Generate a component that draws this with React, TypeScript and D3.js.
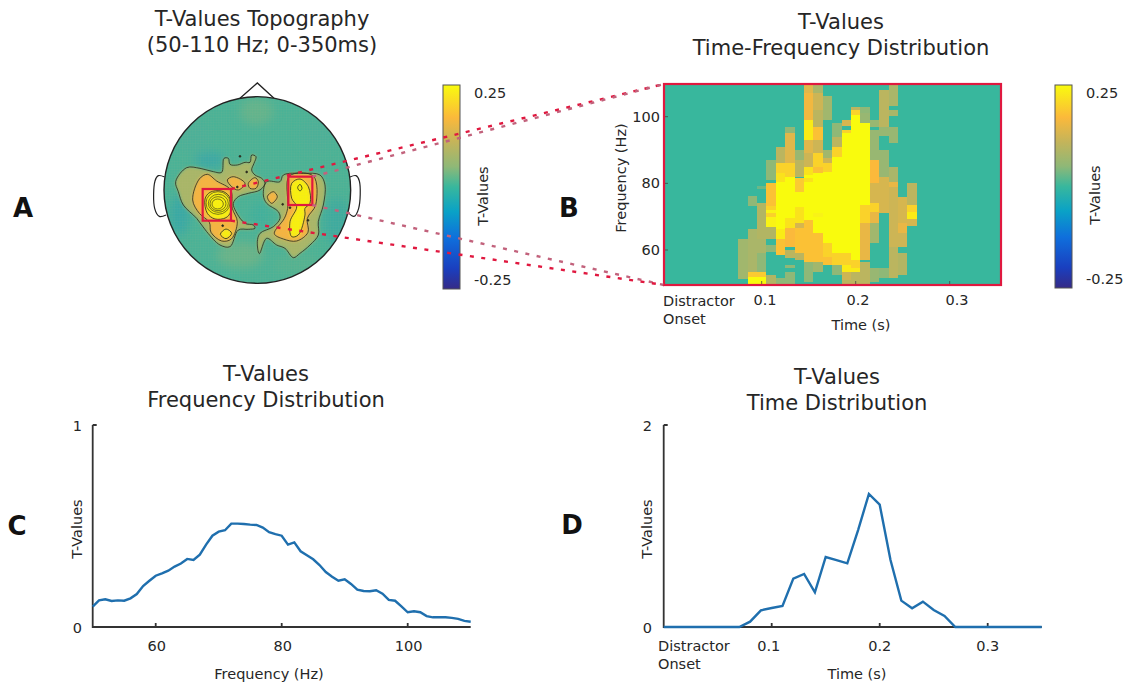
import React from "react";
import * as d3 from "d3";

// ---------- data ----------
const freqHz = d3.range(50, 111);
const freqValues = [.101,.132,.137,.129,.132,.130,.142,.163,.203,.229,.254,.266,.279,.299,.314,.337,.332,.358,.408,.452,.472,.479,.512,.512,.510,.507,.505,.492,.469,.460,.452,.408,.419,.375,.355,.335,.307,.272,.249,.229,.236,.213,.185,.178,.177,.182,.165,.134,.130,.102,.073,.078,.073,.054,.048,.048,.048,.045,.040,.030,.026];
const timeSec = [0,.07,.08,.09,.10,.11,.12,.13,.14,.15,.16,.17,.18,.19,.20,.21,.22,.23,.24,.25,.26,.27,.35];
const timeValues = [0,0,.053,.165,.188,.208,.479,.525,.343,.693,.663,.630,.960,1.317,1.211,.663,.261,.185,.251,.169,.109,0,0];

// [time centre, [fLow, fHigh, tValue]...]
type Col = [number, [number, number, number][]];
const heatCols: Col[] = [
  [.08, [[51.3,63.2,.07]]],
  [.09, [[73.2,76.2,.05],[53.5,66.2,.08],[52,53.5,.19],[49.6,52,.25]]],
  [.10, [[78.4,79.2,.03],[63.2,74.2,.09],[59,63.2,.08],[53.5,59,.05],[52,53.5,.19],[49.6,52,.25]]],
  [.11, [[81,87,.05],[73.2,80.2,.18],[72,73.2,.2],[71,72,.24],[70,71,.2],[69,70,.24],[66.8,69,.24],[63.2,67,.09],[59.5,61.5,.05],[49.6,52.5,.09]]],
  [.12, [[86,91,.1],[83,86,.2],[80.5,83,.22],[66.2,80.5,.25],[63.2,66.2,.23],[58.5,63.2,.18],[49.6,51.5,.05]]],
  [.13, [[95,97,.05],[86,95,.14],[82,86,.2],[69.5,82,.25],[66.5,69.5,.22],[61,66.5,.17],[57.5,60,.1],[54.5,55.5,.05],[49.6,53.5,.05]]],
  [.14, [[87,90,.06],[82,87,.1],[77.5,81.5,.19],[73,77.5,.25],[68,73,.22],[66.5,68,.13],[59,66.5,.18],[57,59,.1]]],
  [.15, [[107,109.8,.14],[99,107,.16],[93,99,.23],[89,93,.14],[85,89,.12],[82.5,85,.22],[81.5,82.5,.25],[80.5,81.5,.22],[69,80.5,.25],[56.5,69,.18],[50.5,56.5,.05]]],
  [.16, [[107,109.8,.08],[102,107,.12],[97,102,.1],[93,97,.18],[89,93,.12],[85,89,.2],[83,85,.18],[71,83,.25],[70,71,.24],[65,70,.25],[56.5,65,.18],[53.5,56.5,.07]]],
  [.17, [[99,106.2,.07],[87.5,90,.07],[86,87.5,.12],[83.5,86,.2],[62,83.5,.25],[58,62,.2],[55.5,58,.18]]],
  [.18, [[94,98,.05],[91,94,.1],[88,91,.2],[59,88,.25],[55.5,59,.2],[52.5,55.5,.05]]],
  [.19, [[97.2,99,.13],[95,96,.2],[59,95,.25],[55.5,59,.2],[53.5,55.5,.23],[51,53.5,.12],[49.6,51,.1]]],
  [.20, [[102,103,.1],[100.5,102,.2],[57,100.5,.25],[54.5,57,.2],[53.5,54.5,.23],[49.6,53.5,.1]]],
  [.21, [[101,103,.05],[98.2,101,.06],[73.5,98.2,.25],[68,73.5,.2],[57,68,.15],[49.6,56.5,.1]]],
  [.22, [[97,99,.06],[91,96,.06],[87,91,.06],[80,87,.17],[74,80,.13],[71.5,74,.2],[68,71.5,.15],[62,68,.07],[50.5,54.5,.06]]],
  [.23, [[97,108,.1],[94.2,97,.06],[82,90,.06],[71,82,.13],[51.5,54.5,.05]]],
  [.24, [[103.2,109.8,.08],[100.2,102,.08],[92,97,.06],[80.5,85,.08],[79,80.5,.15],[61,79,.12],[51.5,61,.1]]],
  [.25, [[68,76,.13],[65,68,.15],[61,65,.12],[52.5,59,.09]]],
  [.26, [[73.5,80.2,.1],[71.5,73.5,.2],[69.2,71.5,.23],[67.2,69.2,.13]]],
];

const cbarStops = [-.25,-.2,-.125,-.06,0,.05,.11,.17,.25];
const cbarColors = ["#352a87","#1a3fbf","#0f6fdc","#0aa2c6","#38b79d","#8fb877","#c4b45a","#fbb93b","#f9fb0e"];

// topography outlines, in the head's own picture units (0..660)
const headOutline = { cx: 322, cy: 345, r: 280 };
const nosePts: [number,number][] = [[270,70],[322,24],[372,70]];
const earL: [number,number][] = [[44,306],[25,302],[15,318],[14,400],[28,424],[48,420]];
const earR: [number,number][] = [[600,306],[618,302],[628,318],[626,400],[612,424],[594,412]];
const outerL: [number,number][] = [[77,320],[110,278],[150,280],[190,290],[215,292],[222,250],[235,250],[240,268],[262,270],[285,262],[300,262],[305,240],[318,245],[312,265],[305,285],[315,300],[335,310],[345,325],[330,345],[295,355],[265,365],[250,385],[258,410],[285,445],[310,450],[315,460],[295,463],[265,465],[240,515],[210,510],[170,470],[140,430],[100,390],[85,350]];
const outerR: [number,number][] = [[350,320],[390,320],[400,300],[460,295],[510,300],[525,330],[520,390],[505,440],[505,480],[480,510],[450,535],[430,548],[405,520],[380,510],[350,490],[328,536],[322,500],[330,475],[370,455],[390,430],[385,410],[350,385],[340,360]];
const midL: [number,number][] = [[128,375],[148,312],[172,298],[200,318],[242,345],[247,400],[262,440],[244,492],[215,498],[183,472],[178,442],[148,415]];
const midL2: [number,number][] = [[232,315],[250,305],[285,325],[265,345],[245,335]];
const midL3: [number,number][] = [[295,325],[315,308],[325,320],[318,340],[300,340]];
const midR: [number,number][] = [[418,303],[490,303],[497,390],[472,430],[474,472],[440,498],[400,492],[373,476],[403,430],[413,400]];
const midR2: [number,number][] = [[352,365],[370,350],[382,365],[365,385]];
const hiR: [number,number][] = [[425,325],[450,312],[475,335],[480,385],[465,400],[465,420],[445,480],[425,485],[420,440],[440,395],[425,370]];
const hiL2: [number,number][] = [[211,478],[228,462],[245,475],[228,491]];
const hiL: [number,number][] = [[165,372],[180,352],[215,348],[238,365],[242,410],[228,428],[195,432],[172,415]];
const topR: [number,number][] = [[443,338],[450,328],[456,340],[450,348]];
const ringsL: [number, number, number, number][] = [[204,384,36,34],[205,385,30,27],[204,386,24,21],[203,387,17,15]];
const specks: [number,number][] = [[270,244],[290,291],[262,336],[398,388],[474,436],[420,398],[218,452]];
const bgBlobs: [number,number,number,number,string][] = [
  [320,110,50,40,"#62b48c"],[180,255,45,25,"#3aa9a5"],[90,420,30,60,"#38a9a5"],[560,440,40,70,"#3dab9f"],
  [270,540,70,40,"#66b48a"],[440,570,70,35,"#52b291"],[130,190,50,50,"#4cb098"],[500,180,50,50,"#4cb098"],[330,420,30,40,"#3fb09c"],
];
const boxL: [number,number,number,number] = [158,342,243,437];
const boxR: [number,number,number,number] = [415,305,487,390];

const freqTicks = [60,80,100];
const timeTicks = [.1,.2,.3];

// ---------- scales ----------
const W = 1127, H = 686;
const cVals = d3.scaleLinear<string>().domain(cbarStops).range(cbarColors).interpolate(d3.interpolateRgb).clamp(true);
const hx = d3.scaleLinear([0,660],[150,370]);
const hy = d3.scaleLinear([0,660],[75,295]);
const hBlobLine = d3.line<[number,number]>().x(d=>hx(d[0])).y(d=>hy(d[1])).curve(d3.curveCatmullRomClosed.alpha(.5));
const hOpen = d3.line<[number,number]>().x(d=>hx(d[0])).y(d=>hy(d[1]));
const hCurve = d3.line<[number,number]>().x(d=>hx(d[0])).y(d=>hy(d[1])).curve(d3.curveCatmullRom);

const bx = d3.scaleLinear([.1,.2],[761.7,855.7]);
const by = d3.scaleLinear([60,100],[250,116.7]);
const cx = d3.scaleLinear([50,110],[92.7,470.7]);
const cy = d3.scaleLinear([0,1],[627,425]);
const dx = d3.scaleLinear([.1,.3],[771.7,987.7]);
const dy = d3.scaleLinear([0,2],[627,425]);

const font = "'DejaVu Sans', sans-serif";
const ink = "#262626";
const axisInk = "#333";
const red = "#e0183f";
const dusty = "#c2627c";
const TS = 14.5;
const HS = 21;

const T = (p: any) => <text fontFamily={font} fill={ink} {...p} />;

function Colorbar({ id, x, y, w, h, labelX, titleX, titleY }: any) {
  return (
    <g>
      <defs>
        <linearGradient id={id} x1="0" x2="0" y1="1" y2="0">
          {cbarStops.map((s, i) => <stop key={i} offset={(s + .25) / .5} stopColor={cbarColors[i]} />)}
        </linearGradient>
      </defs>
      <rect x={x} y={y} width={w} height={h} fill={`url(#${id})`} stroke="#555" strokeWidth={1} />
      <T x={labelX} y={y + 13} fontSize={TS}>0.25</T>
      <T x={labelX} y={y + h - 4} fontSize={TS}>-0.25</T>
      <T fontSize={TS} textAnchor="middle" transform={`translate(${titleX},${titleY}) rotate(-90)`}>T-Values</T>
    </g>
  );
}

function Connector({ a, b, color }: { a: [number, number]; b: [number, number]; color: string }) {
  return <line x1={hx(a[0])} y1={hy(a[1])} x2={b[0]} y2={b[1]} stroke={color} strokeWidth={2.4} strokeDasharray="4 7.5" />;
}

export default function App() {
  const lineC = d3.line<number>().x((_, i) => cx(freqHz[i])).y(d => cy(d))(freqValues)!;
  const lineD = d3.line<number>().x((_, i) => dx(timeSec[i])).y(d => dy(d))(timeValues)!;
  return (
    <svg width={W} height={H} viewBox={`0 0 ${W} ${H}`} style={{ position: "absolute", left: 0, top: 0, background: "#fff" }}>
      <defs>
        <filter id="soft" x="-30%" y="-30%" width="160%" height="160%"><feGaussianBlur stdDeviation="5" /></filter>
        <filter id="soft2" x="-30%" y="-30%" width="160%" height="160%"><feGaussianBlur stdDeviation="1.6" /></filter>
        <filter id="soft3" x="-30%" y="-30%" width="160%" height="160%"><feGaussianBlur stdDeviation=".35" /></filter>
        <filter id="soft4" x="-5%" y="-5%" width="110%" height="110%"><feGaussianBlur stdDeviation=".5" /></filter>
        <clipPath id="headClip"><circle cx={hx(headOutline.cx)} cy={hy(headOutline.cy)} r={hx(headOutline.r) - hx(0)} /></clipPath>
        <clipPath id="heatClip"><rect x={664} y={84} width={337} height={201} /></clipPath>
        <pattern id="grid" width="2.6" height="2.6" patternUnits="userSpaceOnUse">
          <path d="M0 0H2.6M0 0V2.6" stroke="#c8b080" strokeWidth=".5" opacity=".2" />
        </pattern>
      </defs>

      {/* Titles */}
      <T x={262} y={26} fontSize={HS} textAnchor="middle">T-Values Topography</T>
      <T x={262} y={52} fontSize={HS} textAnchor="middle">(50-110 Hz; 0-350ms)</T>
      <T x={841} y={29} fontSize={HS} textAnchor="middle">T-Values</T>
      <T x={841} y={55} fontSize={HS} textAnchor="middle">Time-Frequency Distribution</T>
      <T x={266} y={381} fontSize={HS} textAnchor="middle">T-Values</T>
      <T x={266} y={407} fontSize={HS} textAnchor="middle">Frequency Distribution</T>
      <T x={837} y={384} fontSize={HS} textAnchor="middle">T-Values</T>
      <T x={837} y={410} fontSize={HS} textAnchor="middle">Time Distribution</T>

      {/* Panel letters */}
      {([["A",23,217],["B",569,217],["C",17,535],["D",572,534]] as [string,number,number][]).map(([s,x,y]) => (
        <text key={s} x={x} y={y} fontFamily={font} fontWeight="bold" fontSize={26} textAnchor="middle" fill="#111">{s}</text>
      ))}

      {/* Head */}
      <path d={hOpen(nosePts)!} fill="none" stroke="#222" strokeWidth={1.3} />
      <path d={hCurve(earL)!} fill="#fff" stroke="#222" strokeWidth={1.2} />
      <path d={hCurve(earR)!} fill="#fff" stroke="#222" strokeWidth={1.2} />
      <g clipPath="url(#headClip)">
        <rect x={150} y={75} width={220} height={220} fill="#4ab296" />
        <g filter="url(#soft)">
          {bgBlobs.map((b, i) => <ellipse key={i} cx={hx(b[0])} cy={hy(b[1])} rx={hx(b[2]) - 150} ry={hy(b[3]) - 75} fill={b[4]} />)}
        </g>
        <g filter="url(#soft2)">
          {[outerL, outerR].map((p, i) => <path key={i} d={hBlobLine(p)!} fill="#a8b668" />)}
          {[midL, midL2, midL3, midR, midR2].map((p, i) => <path key={i} d={hBlobLine(p)!} fill="#f5b440" />)}
          {[hiR, hiL2, hiL].map((p, i) => <path key={i} d={hBlobLine(p)!} fill="#f8f010" />)}
        </g>
        <rect x={150} y={75} width={220} height={220} fill="url(#grid)" />
        <g fill="none" stroke="#2a2a1c" strokeWidth={.8} filter="url(#soft3)">
          {[outerL, outerR, midL, midL2, midL3, midR, midR2, hiR, hiL2, topR, hiL].map((p, i) => <path key={i} d={hBlobLine(p)!} />)}
          {ringsL.map((r, i) => <ellipse key={i} cx={hx(r[0])} cy={hy(r[1])} rx={hx(r[2]) - 150} ry={hy(r[3]) - 75} strokeWidth={.6} />)}
          {specks.map((s, i) => <circle key={i} cx={hx(s[0])} cy={hy(s[1])} r={.9} fill="#2a2a1c" />)}
        </g>
      </g>
      <circle cx={hx(headOutline.cx)} cy={hy(headOutline.cy)} r={hx(headOutline.r) - hx(0)} fill="none" stroke="#222" strokeWidth={1.4} />
      {[boxL, boxR].map((b, i) => (
        <rect key={i} x={hx(b[0])} y={hy(b[1])} width={hx(b[2]) - hx(b[0])} height={hy(b[3]) - hy(b[1])} fill="none" stroke={red} strokeWidth={2.2} />
      ))}

      <Colorbar id="cbA" x={443} y={85} w={17} h={204} labelX={474} titleX={488} titleY={196} />
      <Colorbar id="cbB" x={1055} y={85} w={17} h={203} labelX={1086} titleX={1100} titleY={195} />

      {/* Heat panel B */}
      <rect x={664} y={84} width={337} height={201} fill={cVals(0)} />
      <g clipPath="url(#heatClip)"><g filter="url(#soft4)">
        {heatCols.map(([t, runs]) => runs.map((r, i) => (
          <rect key={t + "-" + i} x={bx(t - .005)} width={bx(.01) - bx(0)} y={by(r[1])} height={by(r[0]) - by(r[1])} fill={cVals(r[2])} shapeRendering="crispEdges" />
        )))}
      </g></g>
      <g stroke="#444" strokeWidth={.8}>
        {timeTicks.map(t => <line key={t} x1={bx(t)} x2={bx(t)} y1={285} y2={281} />)}
        {freqTicks.map(f => <line key={f} x1={664} x2={668} y1={by(f)} y2={by(f)} />)}
      </g>
      <rect x={664} y={84} width={337} height={201} fill="none" stroke={red} strokeWidth={2.2} />
      {freqTicks.map(f => <T key={f} x={660} y={by(f) + 5} fontSize={TS} textAnchor="end">{f}</T>)}
      <T fontSize={TS} textAnchor="middle" transform={`translate(626,178) rotate(-90)`}>Frequency (Hz)</T>
      {timeTicks.map((t, i) => <T key={t} x={[765, 858, 957][i]} y={305} fontSize={TS} textAnchor="middle">{t}</T>)}
      <T x={663} y={306} fontSize={TS}>Distractor</T>
      <T x={663} y={324} fontSize={TS}>Onset</T>
      <T x={861} y={330} fontSize={TS} textAnchor="middle">Time (s)</T>

      {/* Connectors */}
      <Connector a={[243, 342]} b={[664, 84]} color={red} />
      <Connector a={[487, 305]} b={[664, 84]} color={dusty} />
      <Connector a={[487, 390]} b={[664, 285]} color={dusty} />
      <Connector a={[243, 437]} b={[664, 285]} color={red} />

      {/* Panel C */}
      <g fill="none" stroke={axisInk} strokeWidth={1.8}>
        <path d={`M${cx(50)} ${cy(1)}V${cy(0)}H${cx(110)}`} />
        <path d={`M${cx(50)} ${cy(1)}h4M${cx(50)} ${cy(0)}h4`} />
        {freqTicks.map(f => <path key={f} d={`M${cx(f)} ${cy(0)}v-4`} />)}
      </g>
      <path d={lineC} fill="none" stroke="#1f6fae" strokeWidth={2.4} />
      <T x={82} y={431} fontSize={TS} textAnchor="end">1</T>
      <T x={82} y={633} fontSize={TS} textAnchor="end">0</T>
      <T fontSize={TS} textAnchor="middle" transform={`translate(82,529) rotate(-90)`}>T-Values</T>
      {freqTicks.map(f => <T key={f} x={cx(f) + 1} y={651} fontSize={TS} textAnchor="middle">{f}</T>)}
      <T x={269} y={679} fontSize={TS} textAnchor="middle">Frequency (Hz)</T>

      {/* Panel D */}
      <g fill="none" stroke={axisInk} strokeWidth={1.8}>
        <path d={`M${dx(0)} ${dy(2)}V${dy(0)}H${dx(.35)}`} />
        <path d={`M${dx(0)} ${dy(2)}h4M${dx(0)} ${dy(0)}h4`} />
        {timeTicks.map(t => <path key={t} d={`M${dx(t)} ${dy(0)}v-4`} />)}
      </g>
      <path d={lineD} fill="none" stroke="#1f6fae" strokeWidth={2.4} />
      <T x={652} y={431} fontSize={TS} textAnchor="end">2</T>
      <T x={652} y={633} fontSize={TS} textAnchor="end">0</T>
      <T fontSize={TS} textAnchor="middle" transform={`translate(652,529) rotate(-90)`}>T-Values</T>
      {timeTicks.map(t => <T key={t} x={dx(t) - (t === .1 ? 3 : 0)} y={651} fontSize={TS} textAnchor="middle">{t}</T>)}
      <T x={658} y={651} fontSize={TS}>Distractor</T>
      <T x={658} y={669} fontSize={TS}>Onset</T>
      <T x={857} y={679} fontSize={TS} textAnchor="middle">Time (s)</T>
    </svg>
  );
}
